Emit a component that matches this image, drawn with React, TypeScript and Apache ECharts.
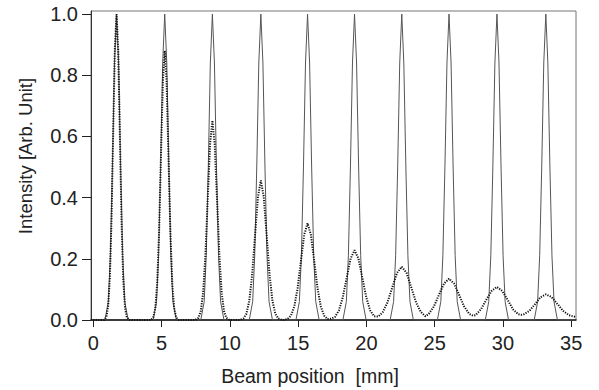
import React, { useEffect, useRef } from "react";
import * as echarts from "echarts";

const xTicks = [0, 5, 10, 15, 20, 25, 30, 35];
const yTicks = [0, 0.2, 0.4, 0.6, 0.8, 1.0];

// Thin solid profiles
const solidProfile: [number, number][] = [
  [0, 0],
  [0.85, 0], [1.10, 0.06], [1.25, 0.21], [1.40, 0.5], [1.55, 0.84], [1.70, 1.0], [1.85, 0.84], [2.00, 0.5], [2.15, 0.21], [2.30, 0.06], [2.55, 0],
  [4.38, 0], [4.63, 0.06], [4.78, 0.21], [4.93, 0.5], [5.08, 0.84], [5.23, 1.0], [5.38, 0.84], [5.53, 0.5], [5.68, 0.21], [5.83, 0.06], [6.08, 0],
  [7.87, 0], [8.12, 0.06], [8.27, 0.21], [8.42, 0.5], [8.57, 0.84], [8.72, 1.0], [8.87, 0.84], [9.02, 0.5], [9.17, 0.21], [9.32, 0.06], [9.57, 0],
  [11.42, 0], [11.67, 0.06], [11.82, 0.21], [11.97, 0.5], [12.12, 0.84], [12.27, 1.0], [12.42, 0.84], [12.57, 0.5], [12.72, 0.21], [12.87, 0.06], [13.12, 0],
  [14.84, 0], [15.09, 0.06], [15.24, 0.21], [15.39, 0.5], [15.54, 0.84], [15.69, 1.0], [15.84, 0.84], [15.99, 0.5], [16.14, 0.21], [16.29, 0.06], [16.54, 0],
  [18.28, 0], [18.53, 0.06], [18.68, 0.21], [18.83, 0.5], [18.98, 0.84], [19.13, 1.0], [19.28, 0.84], [19.43, 0.5], [19.58, 0.21], [19.73, 0.06], [19.98, 0],
  [21.74, 0], [21.99, 0.06], [22.14, 0.21], [22.29, 0.5], [22.44, 0.84], [22.59, 1.0], [22.74, 0.84], [22.89, 0.5], [23.04, 0.21], [23.19, 0.06], [23.44, 0],
  [25.20, 0], [25.45, 0.06], [25.60, 0.21], [25.75, 0.5], [25.90, 0.84], [26.05, 1.0], [26.20, 0.84], [26.35, 0.5], [26.50, 0.21], [26.65, 0.06], [26.90, 0],
  [28.71, 0], [28.96, 0.06], [29.11, 0.21], [29.26, 0.5], [29.41, 0.84], [29.56, 1.0], [29.71, 0.84], [29.86, 0.5], [30.01, 0.21], [30.16, 0.06], [30.41, 0],
  [32.29, 0], [32.54, 0.06], [32.69, 0.21], [32.84, 0.5], [32.99, 0.84], [33.14, 1.0], [33.29, 0.84], [33.44, 0.5], [33.59, 0.21], [33.74, 0.06], [33.99, 0],
  [35.30, 0],
];

// Dotted (broadening) profiles
const dottedProfile: [number, number][] = [
  [0, 0],
  [0.80, 0], [0.962, 0.011], [1.085, 0.044], [1.208, 0.135], [1.331, 0.325], [1.454, 0.607], [1.577, 0.883], [1.70, 1.0], [1.823, 0.883], [1.946, 0.607], [2.069, 0.325], [2.192, 0.135], [2.315, 0.044], [2.438, 0.011], [2.60, 0],
  [4.23, 0], [4.402, 0.010], [4.54, 0.039], [4.678, 0.119], [4.816, 0.286], [4.954, 0.534], [5.092, 0.777], [5.23, 0.88], [5.368, 0.777], [5.506, 0.534], [5.644, 0.286], [5.782, 0.119], [5.92, 0.039], [6.058, 0.010], [6.23, 0],
  [7.47, 0], [7.70, 0.007], [7.87, 0.029], [8.04, 0.088], [8.21, 0.212], [8.38, 0.396], [8.55, 0.576], [8.72, 0.652], [8.89, 0.576], [9.06, 0.396], [9.23, 0.212], [9.40, 0.088], [9.57, 0.029], [9.74, 0.007], [9.97, 0],
  [10.72, 0], [10.995, 0.005], [11.208, 0.020], [11.42, 0.062], [11.633, 0.148], [11.845, 0.277], [12.058, 0.403], [12.27, 0.456], [12.483, 0.403], [12.695, 0.277], [12.908, 0.148], [13.12, 0.062], [13.333, 0.020], [13.545, 0.005], [13.82, 0],
  [13.94, 0], [14.226, 0.003], [14.47, 0.014], [14.714, 0.043], [14.958, 0.103], [15.202, 0.192], [15.446, 0.279], [15.69, 0.316], [15.934, 0.279], [16.178, 0.192], [16.422, 0.103], [16.666, 0.043], [16.91, 0.014], [17.154, 0.003],
  [17.41, 0.004], [17.698, 0.010], [17.984, 0.031], [18.27, 0.074], [18.557, 0.138], [18.843, 0.201], [19.13, 0.228], [19.417, 0.201], [19.703, 0.138], [19.99, 0.074], [20.276, 0.031], [20.563, 0.012],
  [20.86, 0.011], [21.19, 0.025], [21.54, 0.057], [21.89, 0.106], [22.24, 0.154], [22.59, 0.174], [22.94, 0.154], [23.29, 0.106], [23.64, 0.057], [23.99, 0.026], [24.32, 0.012],
  [24.57, 0.020], [24.94, 0.044], [25.31, 0.082], [25.68, 0.119], [26.05, 0.135], [26.42, 0.119], [26.79, 0.082], [27.16, 0.044], [27.53, 0.020], [27.81, 0.014],
  [28.00, 0.016], [28.39, 0.035], [28.78, 0.066], [29.17, 0.095], [29.56, 0.108], [29.95, 0.095], [30.34, 0.066], [30.73, 0.035], [31.12, 0.019], [31.35, 0.017],
  [31.54, 0.019], [31.94, 0.030], [32.34, 0.051], [32.74, 0.074], [33.14, 0.084], [33.56, 0.075], [33.98, 0.053], [34.40, 0.030], [34.82, 0.016], [35.30, 0.010],
];

const FONT = "Liberation Sans, Arial, Helvetica, sans-serif";

export default function App() {
  const ref = useRef<HTMLDivElement>(null);

  useEffect(() => {
    if (!ref.current) return;
    const chart = echarts.init(ref.current, undefined, { renderer: "svg" });
    chart.setOption({
      animation: false,
      backgroundColor: "#ffffff",
      grid: {
        left: 91,
        right: 23,
        top: 11,
        bottom: 70,
        show: true,
        borderColor: "#777",
        borderWidth: 1,
        backgroundColor: "transparent",
      },
      xAxis: {
        type: "value",
        min: -0.17,
        max: 35.35,
        splitLine: { show: false },
        axisLine: { show: true, onZero: false, lineStyle: { color: "#111", width: 1.5 } },
        axisTick: { show: true, customValues: xTicks, length: 7, lineStyle: { color: "#222", width: 1 } },
        axisLabel: {
          customValues: xTicks,
          margin: 13,
          color: "#222",
          fontSize: 20,
          fontFamily: FONT,
        },
      },
      yAxis: {
        type: "value",
        min: 0,
        max: 1.01,
        splitLine: { show: false },
        axisLine: { show: true, onZero: false, lineStyle: { color: "#333", width: 1 } },
        axisTick: { show: true, customValues: yTicks, length: 9, lineStyle: { color: "#222", width: 1 } },
        axisLabel: {
          customValues: yTicks,
          margin: 13,
          color: "#222",
          fontSize: 20,
          fontFamily: FONT,
          formatter: (v: number) => v.toFixed(1),
        },
      },
      graphic: [
        {
          type: "text",
          x: 310,
          y: 376,
          style: {
            text: "Beam position  [mm]",
            font: `19.5px ${FONT}`,
            fill: "#222",
            align: "center",
            verticalAlign: "middle",
          },
        },
        {
          type: "text",
          x: 25,
          y: 156,
          rotation: Math.PI / 2,
          style: {
            text: "Intensity [Arb. Unit]",
            font: `18.5px ${FONT}`,
            fill: "#222",
            align: "center",
            verticalAlign: "middle",
          },
        },
      ],
      series: [
        {
          type: "line",
          data: solidProfile,
          showSymbol: false,
          symbol: "none",
          lineStyle: { color: "#555", width: 1 },
          z: 2,
        },
        {
          type: "line",
          data: dottedProfile,
          showSymbol: false,
          symbol: "none",
          lineStyle: { color: "#111", width: 2, type: [1.2, 1.3] },
          z: 3,
        },
      ],
    });
    return () => chart.dispose();
  }, []);

  return (
    <div
      ref={ref}
      style={{ position: "absolute", left: 0, top: 0, width: 599, height: 390 }}
    />
  );
}
